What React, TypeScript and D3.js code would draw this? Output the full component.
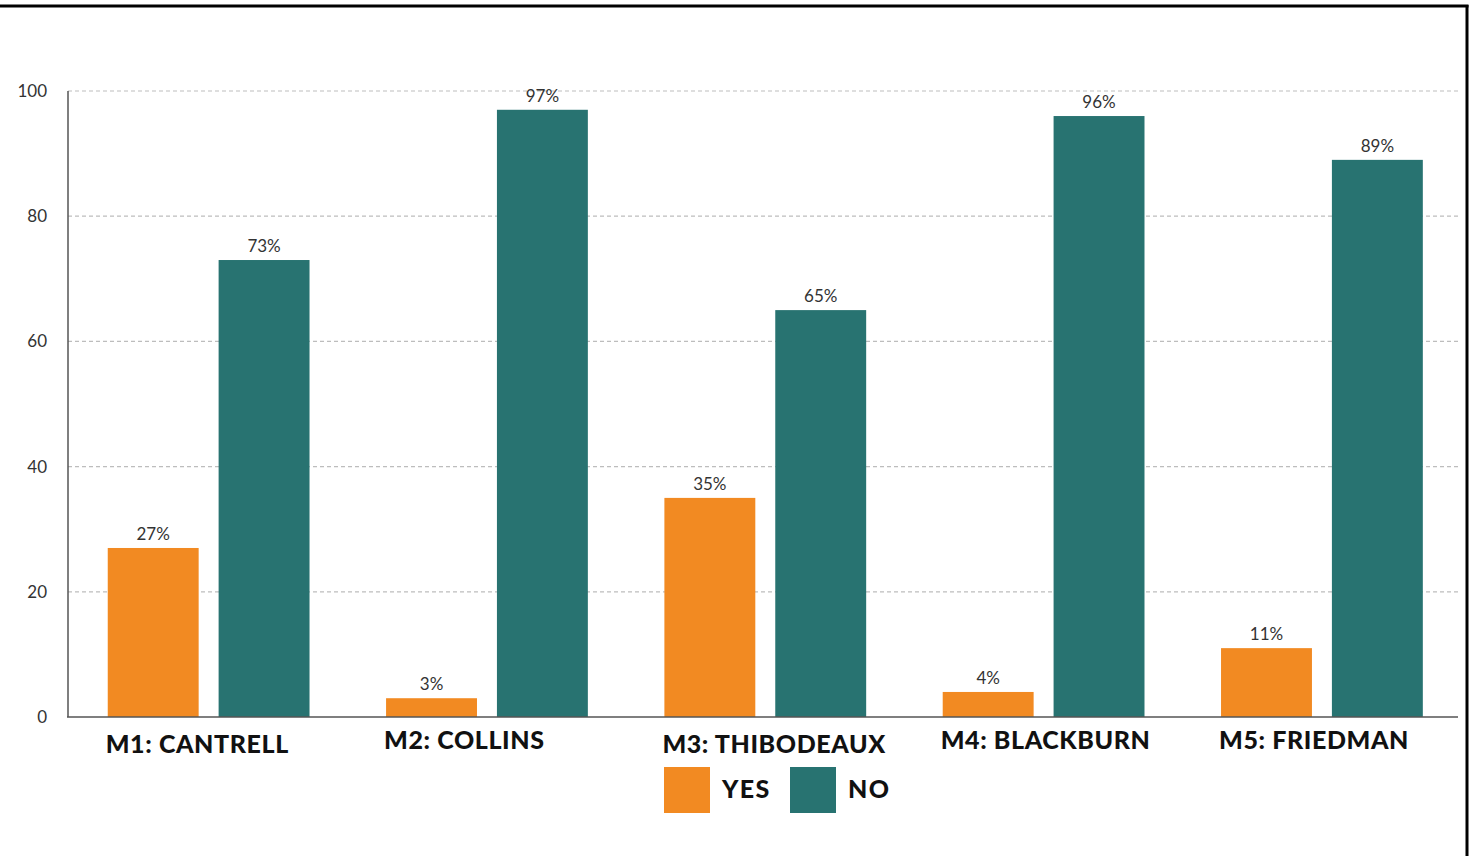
import React from "react";
import * as d3 from "d3";

// Poll results per candidate
const categories = ["M1: CANTRELL", "M2: COLLINS", "M3: THIBODEAUX", "M4: BLACKBURN", "M5: FRIEDMAN"];
const yesValues = [27, 3, 35, 4, 11];
const noValues = [73, 97, 65, 96, 89];
const yTicks = [0, 20, 40, 60, 80, 100];
const seriesKeys = ["YES", "NO"];

const WIDTH = 1470;
const HEIGHT = 856;
const COLORS: Record<string, string> = { YES: "#F28A22", NO: "#287371" };

// Category labels sit on two slightly different baselines
const categoryBaselines = [753, 749, 753, 749, 749];

export default function App() {
  const x = d3
    .scaleBand<string>()
    .domain(categories)
    .range([68, 1456])
    .paddingInner(0.275)
    .paddingOuter(0.131)
    .align(0.545);

  const xInner = d3
    .scaleBand<string>()
    .domain(seriesKeys)
    .range([0, x.bandwidth()])
    .paddingInner(0.18);

  const y = d3.scaleLinear().domain([0, 100]).range([717, 91]);

  const rows = categories.map((c, i) => ({
    category: c,
    values: [
      { key: "YES", value: yesValues[i] },
      { key: "NO", value: noValues[i] },
    ],
  }));

  const labelFont = "Lato, 'Noto Sans', sans-serif";
  const headFont = "Lato, 'Open Sans', sans-serif";

  return (
    <svg
      width={WIDTH}
      height={HEIGHT}
      style={{ position: "absolute", left: 0, top: 0, background: "#fff" }}
    >
      <rect x={0} y={0} width={WIDTH} height={HEIGHT} fill="#fff" />
      {/* frame edges */}
      <line x1={0} x2={1468.5} y1={6} y2={6} stroke="#000" strokeWidth={3} />
      <line x1={1467} x2={1467} y1={5} y2={HEIGHT} stroke="#000" strokeWidth={3} />

      {/* gridlines */}
      {yTicks
        .filter((t) => t !== 0)
        .map((t) => (
          <line
            key={`g${t}`}
            x1={68}
            x2={1458}
            y1={y(t)}
            y2={y(t)}
            stroke="#bdbdbd"
            strokeWidth={1.2}
            strokeDasharray="4,3"
          />
        ))}

      {/* y tick labels */}
      {yTicks.map((t) => (
        <text
          key={`t${t}`}
          x={47}
          y={y(t)}
          dy="0.35em"
          textAnchor="end"
          fontFamily={labelFont}
          fontSize={17}
          fill="#333"
        >
          {t}
        </text>
      ))}

      {/* bars and value labels */}
      {rows.map((r) => (
        <g key={r.category} transform={`translate(${x(r.category)},0)`}>
          {r.values.map((v) => (
            <g key={v.key}>
              <rect
                x={xInner(v.key)}
                y={y(v.value)}
                width={xInner.bandwidth()}
                height={y(0) - y(v.value)}
                fill={COLORS[v.key]}
              />
              <text
                x={(xInner(v.key) as number) + xInner.bandwidth() / 2}
                y={y(v.value) - 8}
                textAnchor="middle"
                fontFamily={labelFont}
                fontSize={17}
                fill="#333"
              >
                {`${v.value}%`}
              </text>
            </g>
          ))}
        </g>
      ))}

      {/* axes */}
      <line x1={68} x2={68} y1={y(100)} y2={y(0)} stroke="#555" strokeWidth={1.5} />
      <line x1={67} x2={1458} y1={y(0)} y2={y(0)} stroke="#555" strokeWidth={1.5} />

      {/* category labels */}
      {categories.map((c, i) => (
        <text
          key={`c${c}`}
          x={(x(c) as number) - 2}
          y={categoryBaselines[i]}
          fontFamily={headFont}
          fontWeight={900}
          fontSize={25}
          letterSpacing={0.6}
          fill="#111"
        >
          {c}
        </text>
      ))}

      {/* legend */}
      {seriesKeys.map((k, i) => {
        const lx = 664 + i * 126;
        return (
          <g key={`l${k}`}>
            <rect x={lx} y={767} width={46} height={46} fill={COLORS[k]} />
            <text
              x={lx + 58}
              y={798}
              fontFamily={headFont}
              fontWeight={900}
              fontSize={25}
              letterSpacing={1.4}
              fill="#111"
            >
              {k}
            </text>
          </g>
        );
      })}
    </svg>
  );
}
